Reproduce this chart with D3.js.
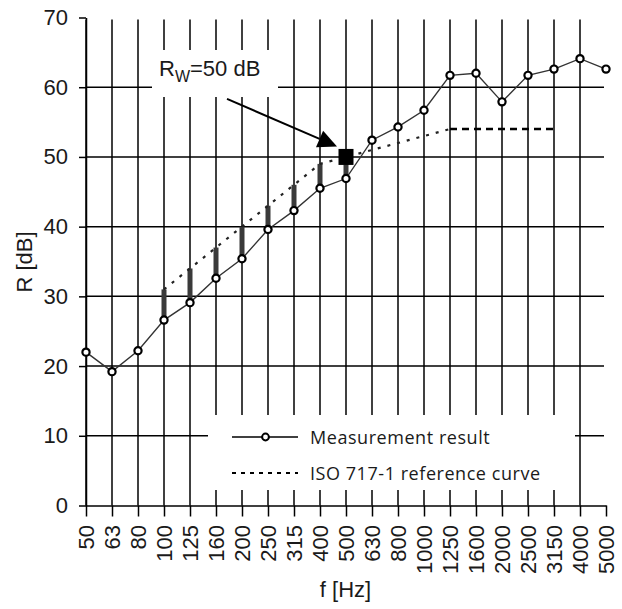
<!DOCTYPE html>
<html>
<head>
<meta charset="utf-8">
<script src="https://cdn.jsdelivr.net/npm/d3@7"></script>
<style>
body { margin: 0; background: #fff; }
text { font-family: "Liberation Sans", Arial, sans-serif; fill: #1a1a1a; }
.axis text { font-size: 22px; }
.axis path, .axis line { stroke: #000; stroke-width: 1.5; }
.legend { font-family: "Open Sans", sans-serif; font-size: 18px; letter-spacing: 0.55px; }
</style>
</head>
<body>
<div id="container"></div>
<script>
// third-octave bands
var freqs = ["50", "63", "80", "100", "125", "160", "200", "250", "315", "400", "500",
  "630", "800", "1000", "1250", "1600", "2000", "2500", "3150", "4000", "5000"];
// measured sound reduction index R [dB]
var measured = [22, 19.2, 22.2, 26.6, 29.1, 32.6, 35.4, 39.6, 42.3, 45.5, 46.9,
  52.4, 54.3, 56.7, 61.7, 62.0, 57.9, 61.7, 62.6, 64.1, 62.6];
// ISO 717-1 reference curve, shifted to Rw
var refFreqs = ["100", "125", "160", "200", "250", "315", "400", "500",
  "630", "800", "1000", "1250", "1600", "2000", "2500", "3150"];
var refValues = [31, 34, 37, 40, 43, 46, 49, 50, 51, 52, 53, 54, 54, 54, 54, 54];
var yTicks = [0, 10, 20, 30, 40, 50, 60, 70];
var rwFreq = "500";
var rwValue = 50;

var margin = { top: 17.5, left: 86 };
var width = 520;
var height = 488;

var svg = d3.select("#container").append("svg")
  .attr("width", 622)
  .attr("height", 609);

var g = svg.append("g")
  .attr("transform", "translate(" + margin.left + "," + margin.top + ")");

var x = d3.scalePoint().domain(freqs).range([0, width]);
var y = d3.scaleLinear().domain([0, 70]).range([height, 0]);

// grid
g.append("g").selectAll("line")
  .data(freqs.slice(0, freqs.length - 1))
  .enter().append("line")
  .attr("x1", function(d) { return x(d); })
  .attr("x2", function(d) { return x(d); })
  .attr("y1", y(70) + 2)
  .attr("y2", height)
  .attr("stroke", "#000")
  .attr("stroke-width", 1.5);

g.append("g").selectAll("line")
  .data(yTicks.slice(1, yTicks.length - 1))
  .enter().append("line")
  .attr("x1", 0)
  .attr("x2", width - 2)
  .attr("y1", function(d) { return y(d); })
  .attr("y2", function(d) { return y(d); })
  .attr("stroke", "#000")
  .attr("stroke-width", 1.5);

// white boxes behind the annotation and the legend
g.append("rect").attr("x", 66).attr("y", 32.5).attr("width", 126).attr("height", 47).attr("fill", "#fff");
g.append("rect").attr("x", 122).attr("y", 397.5).attr("width", 367).attr("height", 75).attr("fill", "#fff");

// axes
var yAxis = d3.axisLeft(y).tickValues(yTicks).tickSize(7).tickSizeOuter(0).tickPadding(11);
g.append("g").attr("class", "axis").call(yAxis);

var xAxis = d3.axisBottom(x).tickSize(11).tickSizeOuter(0);
var xg = g.append("g")
  .attr("class", "axis")
  .attr("transform", "translate(0," + height + ")")
  .call(xAxis);
xg.selectAll("text")
  .attr("transform", "rotate(-90)")
  .attr("text-anchor", "end")
  .attr("x", -19.5)
  .attr("y", 0)
  .attr("dy", "0.36em");

svg.append("text")
  .attr("transform", "translate(32,262) rotate(-90)")
  .attr("text-anchor", "middle")
  .style("font-size", "22px")
  .text("R [dB]");

svg.append("text")
  .attr("x", 345.5)
  .attr("y", 597)
  .attr("text-anchor", "middle")
  .style("font-size", "22px")
  .text("f [Hz]");

// deficiency bars (reference above measured)
var bars = refFreqs.map(function(f, i) {
  return { f: f, ref: refValues[i], meas: measured[freqs.indexOf(f)] };
}).filter(function(d) { return d.ref > d.meas; });

g.append("g").selectAll("rect")
  .data(bars)
  .enter().append("rect")
  .attr("x", function(d) { return x(d.f) - 2.5; })
  .attr("width", 5)
  .attr("y", function(d) { return y(d.ref); })
  .attr("height", function(d) { return y(d.meas) - y(d.ref); })
  .attr("fill", "#3a3a3a");

// reference curve: dotted slope, dashed plateau
var ref = refFreqs.map(function(f, i) { return { f: f, v: refValues[i] }; });
var split = refFreqs.indexOf("1250");
var refLine = d3.line()
  .x(function(d) { return x(d.f); })
  .y(function(d) { return y(d.v); });

g.append("path")
  .datum(ref.slice(0, split + 1))
  .attr("d", refLine)
  .attr("fill", "none")
  .attr("stroke", "#222")
  .attr("stroke-width", 2.2)
  .attr("stroke-dasharray", "3,7");

g.append("path")
  .datum(ref.slice(split))
  .attr("d", refLine)
  .attr("fill", "none")
  .attr("stroke", "#000")
  .attr("stroke-width", 2.5)
  .attr("stroke-dasharray", "7,5");

// measurement
var meas = freqs.map(function(f, i) { return { f: f, v: measured[i] }; });
g.append("path")
  .datum(meas)
  .attr("d", refLine)
  .attr("fill", "none")
  .attr("stroke", "#333")
  .attr("stroke-width", 1.4);

g.append("g").selectAll("circle")
  .data(meas)
  .enter().append("circle")
  .attr("cx", function(d) { return x(d.f); })
  .attr("cy", function(d) { return y(d.v); })
  .attr("r", 3.6)
  .attr("fill", "#fff")
  .attr("stroke", "#000")
  .attr("stroke-width", 2.2);

// Rw marker
var rx = x(rwFreq), ry = y(rwValue);
g.append("rect")
  .attr("x", rx - 7.5)
  .attr("y", ry - 8)
  .attr("width", 15)
  .attr("height", 16)
  .attr("fill", "#000");

// arrow
var ax0 = rx - 119, ay0 = ry - 58;
var ax1 = rx - 9, ay1 = ry - 10.5;
var ang = Math.atan2(ay1 - ay0, ax1 - ax0);
var hl = 19, hw = 9;
var bx = ax1 - hl * Math.cos(ang), by = ay1 - hl * Math.sin(ang);
g.append("line")
  .attr("x1", ax0).attr("y1", ay0)
  .attr("x2", bx).attr("y2", by)
  .attr("stroke", "#000")
  .attr("stroke-width", 2);
g.append("path")
  .attr("d", "M" + ax1 + "," + ay1 +
    "L" + (bx - hw * Math.sin(ang)) + "," + (by + hw * Math.cos(ang)) +
    "L" + (bx + hw * Math.sin(ang)) + "," + (by - hw * Math.cos(ang)) + "Z")
  .attr("fill", "#000");

var ann = svg.append("text")
  .attr("x", 159)
  .attr("y", 76)
  .style("font-size", "22px");
ann.append("tspan").text("R");
ann.append("tspan").attr("dy", 5.5).style("font-size", "16px").text("W");
ann.append("tspan").attr("dy", -5.5).text("=50 dB");

// legend
var legend = svg.append("g");
legend.append("line")
  .attr("x1", 232).attr("x2", 298).attr("y1", 437).attr("y2", 437)
  .attr("stroke", "#000").attr("stroke-width", 1.5);
legend.append("circle")
  .attr("cx", 265.5).attr("cy", 437).attr("r", 3.4)
  .attr("fill", "#fff").attr("stroke", "#000").attr("stroke-width", 2);
legend.append("text")
  .attr("class", "legend")
  .attr("x", 310).attr("y", 443.5)
  .text("Measurement result");
legend.append("line")
  .attr("x1", 232).attr("x2", 298).attr("y1", 473).attr("y2", 473)
  .attr("stroke", "#000").attr("stroke-width", 2)
  .attr("stroke-dasharray", "4,5");
legend.append("text")
  .attr("class", "legend")
  .attr("x", 310).attr("y", 479.5)
  .text("ISO 717-1 reference curve");
</script>
</body>
</html>
